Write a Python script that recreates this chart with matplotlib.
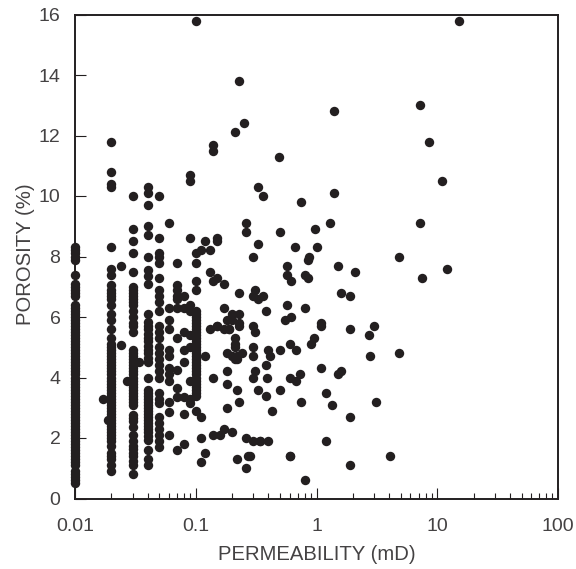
"""Porosity against permeability scatter on a log x axis."""

import matplotlib

matplotlib.use("Agg")
import matplotlib.pyplot as plt

plt.rcParams["font.family"] = ["Liberation Sans", "DejaVu Sans"]

# porosity (%) readings for the permeability values that form columns
por_001 = [8.3, 8.2, 8.1, 8.0, 7.9, 7.4, 7.1, 7.0, 6.9, 6.8, 6.7, 6.4, 6.3, 6.2, 6.1, 6.0, 5.9, 5.8,
           5.7, 5.6, 5.5, 5.4, 5.3, 5.2, 5.1, 5.0, 4.9, 4.8, 4.7, 4.6, 4.5, 4.4, 4.3, 4.2, 4.1, 4.0,
           3.9, 3.8, 3.7, 3.6, 3.5, 3.4, 3.3, 3.2, 3.1, 3.0, 2.9, 2.8, 2.7, 2.6, 2.5, 2.4, 2.3, 2.2,
           2.1, 2.0, 1.9, 1.8, 1.7, 1.6, 1.5, 1.4, 1.3, 1.2, 1.1, 0.9, 0.8, 0.7, 0.6, 0.5]
por_002 = [11.8, 10.8, 10.4, 10.3, 8.3, 7.6, 7.4, 7.05, 6.9, 6.8, 6.7, 6.6, 6.4, 6.1, 5.9, 5.6, 5.3,
           5.1, 5.0, 4.9, 4.8, 4.7, 4.6, 4.5, 4.4, 4.3, 4.2, 4.1, 4.0, 3.9, 3.8, 3.7, 3.6, 3.5, 3.4,
           3.3, 3.2, 3.1, 3.0, 2.9, 2.8, 2.7, 2.6, 2.5, 2.4, 2.3, 2.2, 2.1, 2.0, 1.9, 1.75, 1.5, 1.4,
           1.3, 1.1, 0.9]
por_003 = [10.0, 8.9, 8.5, 8.1, 7.5, 7.0, 6.9, 6.8, 6.7, 6.6, 6.5, 6.4, 6.2, 6.0, 5.8, 5.7, 5.5, 4.9,
           4.8, 4.7, 4.6, 4.5, 4.4, 4.3, 4.2, 4.1, 4.0, 3.9, 3.8, 3.7, 3.6, 3.5, 3.4, 3.3, 3.2, 3.1,
           2.75, 2.65, 2.55, 2.35, 2.1, 1.9, 1.75, 1.65, 1.5, 1.4, 1.25, 1.1, 0.8]
por_004 = [10.3, 10.1, 9.7, 9.0, 8.7, 8.0, 7.55, 7.35, 7.1, 6.1, 5.85, 5.7, 5.6, 5.45, 5.3, 5.2, 5.05,
           4.9, 4.8, 4.65, 4.5, 4.0, 3.6, 3.5, 3.4, 3.3, 3.2, 3.1, 3.0, 2.9, 2.8, 2.7, 2.6, 2.5, 2.4,
           2.3, 2.2, 2.05, 1.95, 1.6, 1.3, 1.1]
por_005 = [10.0, 8.6, 8.1, 8.0, 7.8, 7.3, 6.9, 6.7, 6.5, 6.2, 5.7, 5.5, 5.3, 5.0, 4.8, 4.6, 4.4, 4.2,
           4.0, 3.5, 3.3, 3.15, 2.7, 2.5, 2.3, 2.1, 1.9, 1.7]
por_006 = [9.1, 6.3, 5.9, 5.6, 4.9, 4.7, 4.3, 4.1, 3.9, 3.2, 2.85, 2.1]
por_007 = [7.8, 7.05, 6.9, 6.7, 6.6, 6.3, 5.3, 4.25, 3.65, 3.35, 1.6]
por_008 = [6.7, 6.3, 5.5, 4.9, 4.5, 3.35, 2.8, 1.8]
por_009 = [10.7, 10.5, 8.6, 6.4, 6.2, 5.4, 5.0, 3.9, 3.3, 3.15]
por_010 = [15.8, 8.1, 7.8, 7.2, 6.9, 6.2, 6.1, 6.0, 5.9, 5.8, 5.7, 5.6, 5.5, 5.4, 5.3, 5.2, 5.1, 5.0,
           4.9, 4.8, 4.7, 4.6, 4.5, 4.4, 4.3, 4.2, 4.1, 4.0, 3.9, 3.8, 3.7, 3.6, 3.5, 3.4, 2.9]

# points that do not sit on one of the columns
other_perm = [0.024, 0.024, 0.017, 0.0187, 0.027, 0.034,
              0.11, 0.11, 0.11, 0.12, 0.12, 0.13, 0.14, 0.13, 0.14, 0.15, 0.17, 0.17, 0.15, 0.17,
              0.18, 0.19, 0.2, 0.23, 0.23, 0.21, 0.21, 0.18, 0.2, 0.24, 0.22, 0.18, 0.18, 0.22,
              0.23, 0.18, 0.14, 0.16, 0.17, 0.2, 0.26, 0.22, 0.28, 0.26, 0.34,
              0.36, 0.33, 0.74, 0.26, 0.26, 0.5, 0.98, 0.33, 0.67, 1.0, 0.3, 0.87, 0.85,
              0.12, 0.15, 0.15, 0.13, 0.11, 0.23, 0.31, 0.3, 0.33, 0.36, 0.57, 0.57, 0.62, 0.8,
              0.85, 0.57, 0.8, 0.62, 0.55, 0.38, 0.2, 0.23, 0.15, 0.19, 0.21, 0.21, 0.3, 0.31,
              0.3, 0.4, 0.5, 0.6, 0.68, 0.9, 0.95, 0.22, 0.3, 0.41, 0.38, 0.31, 0.39, 0.6, 0.68,
              0.73, 0.33, 0.5, 0.38, 0.75, 0.43, 0.3,
              0.4, 1.4, 1.3, 7.2, 4.8, 1.5, 2.1, 12.0, 7.5, 1.6, 1.9, 1.1, 1.1, 1.9, 3.0, 2.7,
              2.8, 4.8, 1.1, 1.6, 1.5, 1.2, 1.35, 3.1, 1.9, 1.2, 1.9, 4.1,
              0.6, 0.27, 0.34, 0.3, 0.6, 0.8,
              15.0, 1.4, 7.2, 8.5, 11.0, 0.23, 0.25, 0.21, 0.14, 0.14, 0.49]
other_por = [7.7, 5.07, 3.3, 2.6, 3.9, 4.5,
             2.7, 2.0, 1.2, 1.5, 4.7, 5.6, 4.0, 7.5, 7.2, 7.3, 7.1, 6.3, 5.7, 5.6,
             5.9, 5.6, 6.1, 6.1, 5.8, 5.3, 5.1, 4.8, 4.7, 4.8, 4.6, 4.2, 3.8, 3.6,
             3.2, 3.0, 2.1, 2.1, 2.3, 2.2, 2.0, 1.3, 1.4, 1.0, 1.9,
             10.0, 10.3, 9.8, 9.1, 8.8, 8.8, 8.9, 8.4, 8.3, 8.3, 8.0, 8.0, 7.9,
             8.5, 8.6, 8.5, 8.2, 8.2, 6.8, 6.9, 6.7, 6.6, 6.7, 7.7, 7.4, 7.2, 7.4,
             7.3, 6.4, 6.3, 6.0, 5.9, 6.2, 5.9, 5.7, 5.7, 5.6, 5.0, 4.6, 5.7, 5.5,
             5.0, 4.9, 4.9, 5.1, 4.9, 5.1, 5.3, 4.7, 4.7, 4.7, 4.4, 4.2, 4.0, 4.0, 3.9,
             4.1, 3.6, 3.6, 3.4, 3.2, 2.9, 4.0,
             1.9, 12.8, 9.1, 9.1, 8.0, 7.7, 7.5, 7.6, 7.3, 6.8, 6.7, 5.8, 5.7, 5.6, 5.7, 5.4,
             4.7, 4.8, 4.3, 4.2, 4.1, 3.5, 3.1, 3.2, 2.7, 1.9, 1.1, 1.4,
             1.4, 1.4, 1.9, 1.9, 1.4, 0.6,
             15.8, 10.1, 13.0, 11.8, 10.5, 13.8, 12.4, 12.1, 11.7, 11.5, 11.3]

column_perm = [0.01, 0.02, 0.03, 0.04, 0.05, 0.06, 0.07, 0.08, 0.09, 0.1]
column_por = [por_001, por_002, por_003, por_004, por_005,
              por_006, por_007, por_008, por_009, por_010]

x_ticks = [0.01, 0.1, 1, 10, 100]
x_tick_labels = ["0.01", "0.1", "1", "10", "100"]
y_ticks = [0, 2, 4, 6, 8, 10, 12, 14, 16]

INK = "#231f20"
TEXT = "#444243"

fig = plt.figure(figsize=(5.76, 5.69), dpi=100)
ax = fig.add_axes([75 / 576, 1 - 498.5 / 569, (558 - 75) / 576, 484 / 569])

for perm, porosity in zip(column_perm, column_por):
    ax.scatter([perm] * len(porosity), porosity, s=46, color=INK, linewidths=0, clip_on=False, zorder=3)
ax.scatter(other_perm, other_por, s=46, color=INK, linewidths=0, clip_on=False, zorder=3)

ax.set_xscale("log")
ax.set_xlim(0.01, 100)
ax.set_ylim(0, 16)
ax.set_xticks(x_ticks)
ax.set_xticklabels(x_tick_labels)
ax.set_yticks(y_ticks)

ax.tick_params(axis="both", which="major", direction="in", length=8, width=0.8, color=INK,
               labelsize=14, labelcolor=TEXT)
ax.tick_params(axis="y", which="major", pad=10.5)
ax.tick_params(axis="x", which="major", pad=14)
ax.tick_params(axis="x", which="minor", direction="in", length=4.5, width=0.8, color=INK)
ax.minorticks_on()
ax.yaxis.set_tick_params(which="minor", left=False)

for spine in ax.spines.values():
    spine.set_linewidth(1.4)
    spine.set_color(INK)

ax.set_xlabel("PERMEABILITY (mD)", fontsize=14.6, color=TEXT)
ax.set_ylabel("POROSITY (%)", fontsize=14.6, color=TEXT)
ax.xaxis.set_label_coords(0.5, -0.096)
ax.yaxis.set_label_coords(-0.083, 0.505)

fig.savefig("out.png", dpi=100)
